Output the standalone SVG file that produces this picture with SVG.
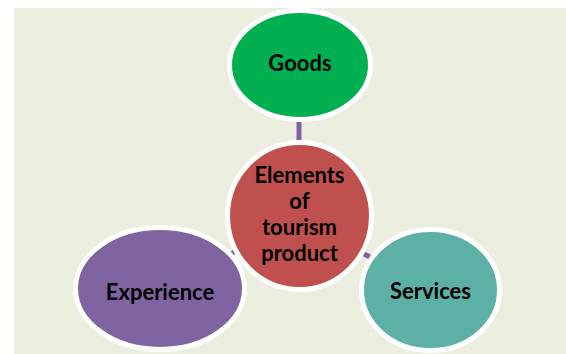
<svg xmlns="http://www.w3.org/2000/svg" width="566" height="354" viewBox="0 0 566 354">
<style>
.node{stroke:#FFFFFF;stroke-width:5}
.lbl{font-family:Lato,"Liberation Sans",sans-serif;font-weight:700;font-size:22px;fill:#000000;text-anchor:middle}
.conn{stroke:#8064A2;stroke-width:5;fill:none}
</style>
<rect x="0" y="0" width="566" height="354" fill="#FFFFFF"/>
<rect x="14" y="8" width="552" height="346" fill="#EBEEDE"/>
<g id="connectors">
<line class="conn" x1="299" y1="122" x2="299" y2="144"/>
<line class="conn" x1="231" y1="255" x2="235" y2="251"/>
<line class="conn" x1="361" y1="252.5" x2="371" y2="257.5"/>
</g>
<g id="goods">
<ellipse class="node" cx="300" cy="65" rx="70.5" ry="54.5" fill="#00B050"/>
<text class="lbl" x="300" y="71">Goods</text>
</g>
<g id="experience">
<ellipse class="node" cx="160" cy="288.5" rx="84.5" ry="61" fill="#8064A2"/>
<text class="lbl" x="160" y="300">Experience</text>
</g>
<g id="services">
<ellipse class="node" cx="430.5" cy="290" rx="69" ry="60.5" fill="#5DB0A6"/>
<text class="lbl" x="430.5" y="299">Services</text>
</g>
<g id="center">
<ellipse class="node" cx="299.5" cy="216" rx="72" ry="73.5" fill="#C0504D"/>
<text class="lbl" x="299.5" y="183">Elements</text>
<text class="lbl" x="299.5" y="209">of</text>
<text class="lbl" x="299.5" y="235">tourism</text>
<text class="lbl" x="299.5" y="261">product</text>
</g>
</svg>
